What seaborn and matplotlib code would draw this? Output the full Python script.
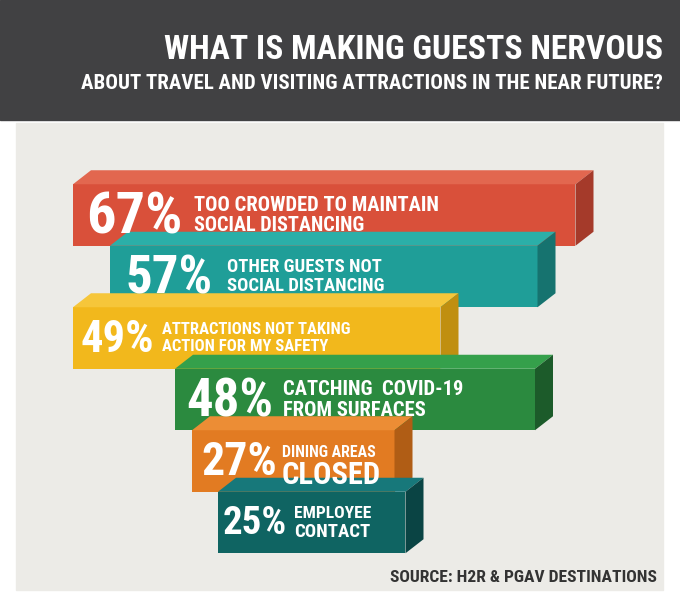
import matplotlib
matplotlib.use('Agg')
import matplotlib.pyplot as plt
from matplotlib.patches import Polygon, Rectangle
import seaborn as sns

# Chart data
values = [67, 57, 49, 48, 27, 25]
lineOne = ['TOO CROWDED TO MAINTAIN', 'OTHER GUESTS NOT', 'ATTRACTIONS NOT TAKING',
           'CATCHING  COVID-19', 'DINING AREAS', 'EMPLOYEE']
lineTwo = ['SOCIAL DISTANCING', 'SOCIAL DISTANCING', 'ACTION FOR MY SAFETY',
           'FROM SURFACES', 'CLOSED', 'CONTACT']
frontColors = ['#d9503a', '#1f9e98', '#f2b81c', '#2b8a3f', '#e27b22', '#0f6462']
sideColors = ['#a53a2a', '#16736f', '#c08f10', '#1c5b2a', '#b05d15', '#0a4444']
topColors = ['#e2674f', '#2bafa8', '#f6c63a', '#35a04b', '#ec8d35', '#17787a']

TITLE = 'WHAT IS MAKING GUESTS NERVOUS'
SUBTITLE = 'ABOUT TRAVEL AND VISITING ATTRACTIONS IN THE NEAR FUTURE?'
SOURCE = 'SOURCE: H2R & PGAV DESTINATIONS'

# Layout, in pixels of the 680x606 picture
W, H = 680, 606
PX_PER_PCT = 7.5
ROW_PX = 61.5
FIRST_ROW_PX = 215
leftPx = [73, 110, 73, 175, 192, 218]
pctPad = [13, 16, 8, 11, 9, 5]
descGap = [12, 14, 7, 10, 5, 7]
pctSize = [42, 38, 32, 38, 33, 28]
lineOneSize = [14.8, 13.4, 12, 14.8, 11.4, 12.6]
lineTwoSize = [14.6, 13.4, 12, 14.8, 22, 13.6]
DEPTH_X, DEPTH_Y = 18, 14
TEXT_Z = 50

FONT = ['Roboto Condensed', 'DejaVu Sans']


def main():
    sns.set_theme(style='white')
    plt.rcParams['font.family'] = FONT
    plt.rcParams['font.weight'] = 'bold'

    fig = plt.figure(figsize=(W / 100, H / 100), dpi=100)
    fig.patch.set_facecolor('white')
    ax = fig.add_axes([0, 0, 1, 1])

    # Background panels
    ax.add_patch(Rectangle((0, 1 - 120 / H), 1, 120 / H, transform=ax.transAxes,
                           color='#414143', zorder=0))
    ax.add_patch(Rectangle((16 / W, 1 - 590 / H), 647 / W, 467 / H,
                           transform=ax.transAxes, color='#ecebe7', zorder=0))

    categories = [a + ' ' + b for a, b in zip(lineOne, lineTwo)]
    sns.barplot(x=values, y=categories, hue=categories, palette=frontColors,
                orient='h', width=1.0, saturation=1, legend=False,
                linewidth=0, ax=ax)

    ax.set_xlim(0, W / PX_PER_PCT)
    ax.set_ylim(5 + (H - (FIRST_ROW_PX + 5 * ROW_PX)) / ROW_PX, -FIRST_ROW_PX / ROW_PX)
    ax.axis('off')

    dx = DEPTH_X / PX_PER_PCT
    dy = DEPTH_Y / ROW_PX

    for p in list(ax.patches):
        if p.get_width() not in values:
            continue
        i = int(round(p.get_y() + p.get_height() / 2))
        x0 = leftPx[i] / PX_PER_PCT
        p.set_x(x0)
        x1 = x0 + p.get_width()
        yTop = p.get_y()
        yBot = yTop + p.get_height()
        yMid = (yTop + yBot) / 2
        z = 2 + i * 4
        p.set_zorder(z)

        ax.add_patch(Polygon([(x0, yTop), (x0 + dx, yTop - dy), (x1 + dx, yTop - dy), (x1, yTop)],
                             closed=True, color=topColors[i], zorder=z, lw=0))
        ax.add_patch(Polygon([(x1, yTop), (x1 + dx, yTop - dy), (x1 + dx, yBot - dy), (x1, yBot)],
                             closed=True, color=sideColors[i], zorder=z, lw=0))

        # big percentage, caps centred on the block (cap height ~ font size in px)
        capPx = pctSize[i] * 0.99
        pct = ax.text(x0 + pctPad[i] / PX_PER_PCT, yMid + (capPx / 2 - 2) / ROW_PX,
                      f'{values[i]}%', color='white', fontsize=pctSize[i],
                      ha='left', va='baseline', zorder=TEXT_Z)
        gapPt = descGap[i] * 0.72
        ax.annotate(lineOne[i], xy=(1, yMid - 2 / ROW_PX), xycoords=(pct, 'data'),
                    xytext=(gapPt, 1.5), textcoords='offset points', color='white',
                    fontsize=lineOneSize[i], ha='left', va='baseline', zorder=TEXT_Z)
        ax.annotate(lineTwo[i], xy=(1, yMid - 2 / ROW_PX), xycoords=(pct, 'data'),
                    xytext=(gapPt, -2.5 - lineTwoSize[i] * 0.71), textcoords='offset points',
                    color='white', fontsize=lineTwoSize[i], ha='left', va='baseline',
                    zorder=TEXT_Z)

    # Header and source
    fig.text(663 / W, 1 - 59 / H, TITLE, color='white', fontsize=24.2,
             ha='right', va='baseline')
    fig.text(663 / W, 1 - 89 / H, SUBTITLE, color='white', fontsize=15,
             ha='right', va='baseline')
    fig.text(657 / W, 1 - 582 / H, SOURCE, color='#333333', fontsize=12.6,
             ha='right', va='baseline')

    fig.savefig('out.png', dpi=100)


if __name__ == '__main__':
    main()
